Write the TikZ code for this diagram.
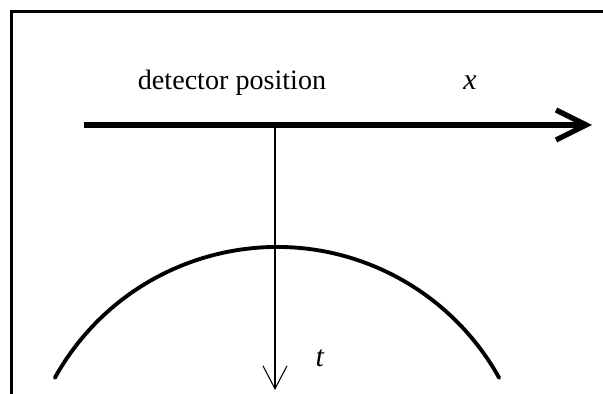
\documentclass[tikz,border=0pt]{standalone}
\usepackage{fontspec}
\setmainfont{Liberation Serif}
\usetikzlibrary{arrows.meta}
\begin{document}
\begin{tikzpicture}[>={Straight Barb[length=4.6mm,width=4.8mm]}]
    % Khung hình
    \useasboundingbox (0,0) rectangle (12.06,7.88);
    \clip (0,0) rectangle (12.06,7.88);
    \draw[line width=1.3pt] (0.23,-0.2) -- (0.23,7.65) -- (12.3,7.65);

    % 1. Trục vị trí đầu dò x
    \coordinate (xstart) at (1.68,5.38);
    \coordinate (xend) at (11.84,5.38);
    \draw[line width=3pt, -{Straight Barb[length=6mm,width=6mm]}] (xstart) -- (xend);
    \node[anchor=base, font=\fontsize{16}{19}\selectfont] (lbl) at (4.64,6.08) {detector position};
    \node[anchor=base, font=\fontsize{17}{19}\selectfont] (xlab) at (9.4,6.08) {\textit{x}};

    % 2. Trục thời gian t
    \coordinate (top) at (5.5,5.38);
    \coordinate (tend) at (5.5,0.08);
    \draw[line width=0.6pt, ->] (top) -- (tend);
    \node[anchor=base, font=\fontsize{17}{19}\selectfont] (tlab) at (6.4,0.54) {\textit{t}};

    % 3. Đường cong phản xạ
    \coordinate (apex) at (5.54,2.94);
    \draw[line width=2.2pt, line cap=round] (apex) ++(0,-5.08) ++(151:5.08)
        arc[start angle=151, end angle=29, radius=5.08];
\end{tikzpicture}
\end{document}
